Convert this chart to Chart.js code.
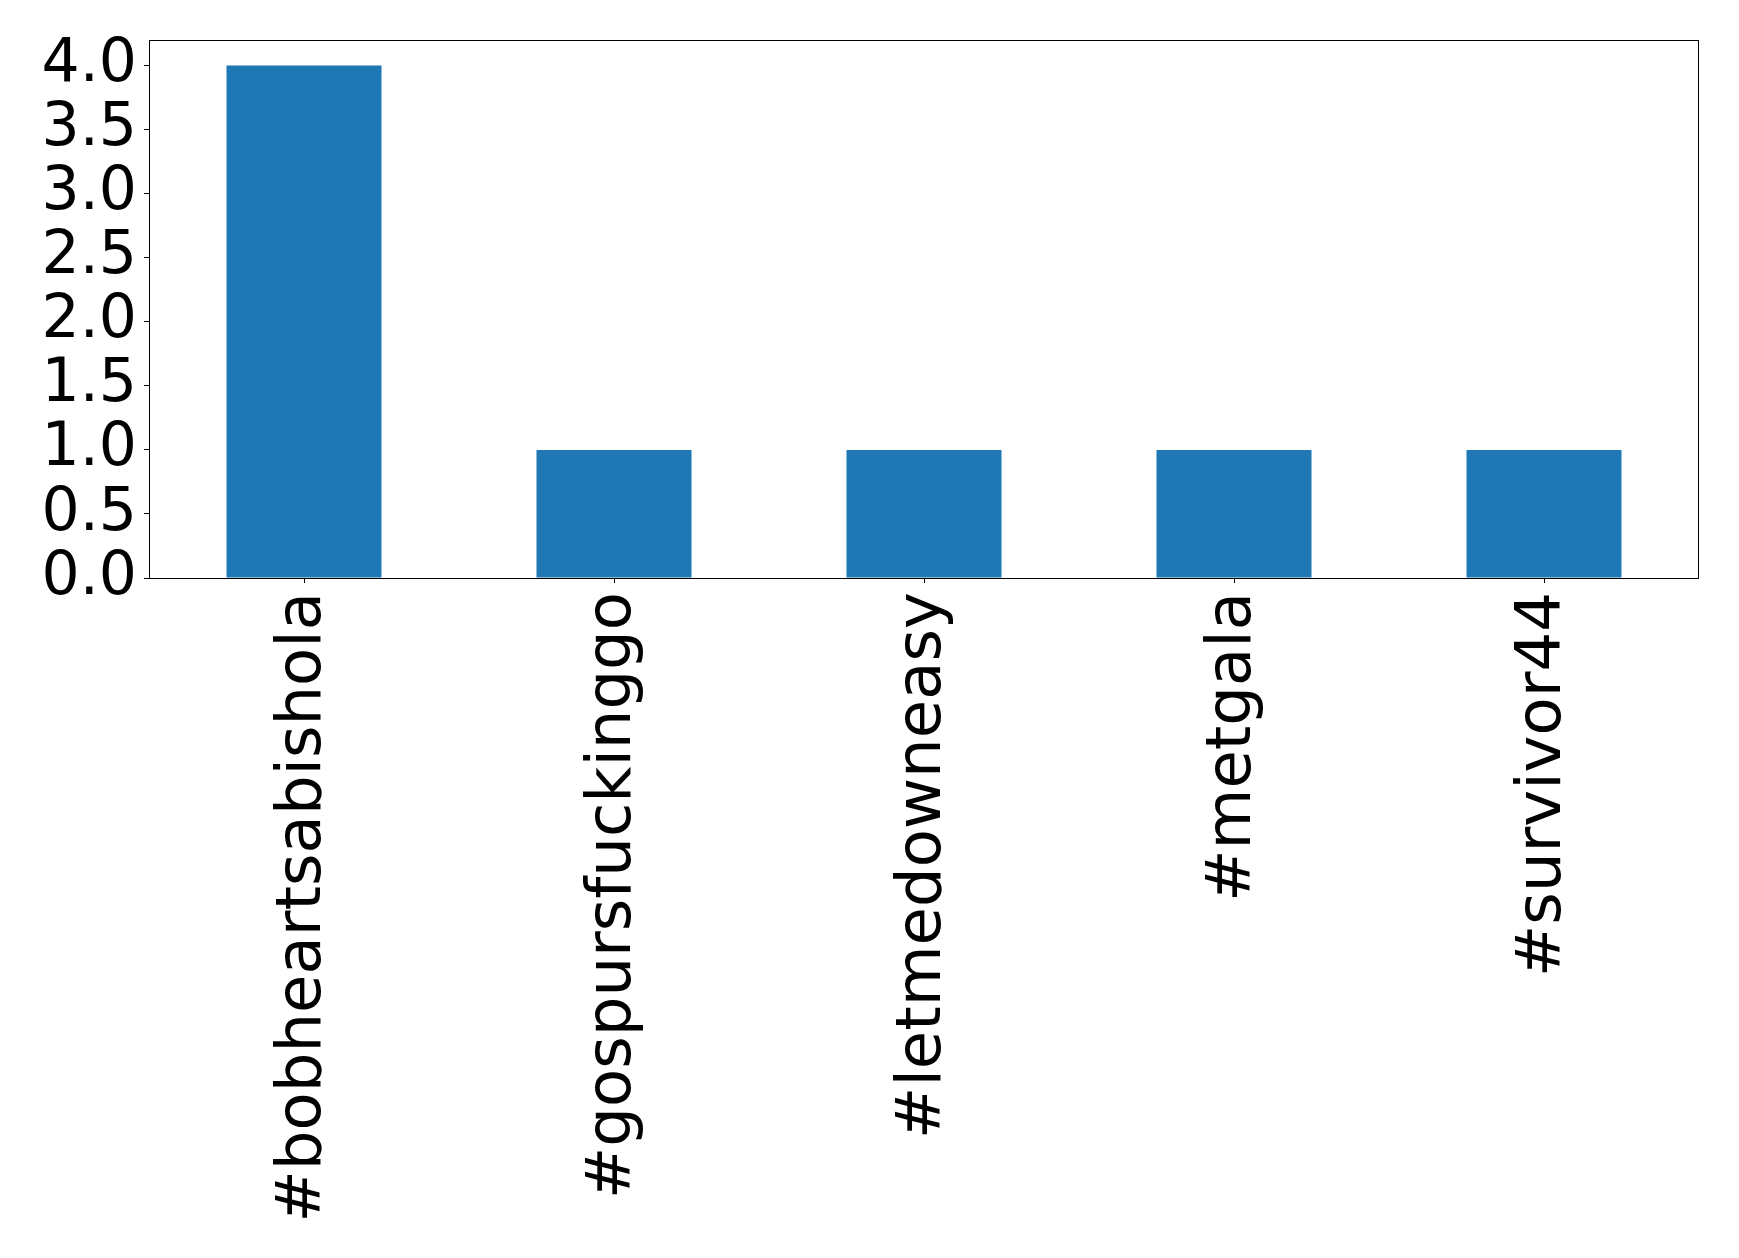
<!DOCTYPE html>
<html>
<head>
<meta charset="utf-8">
<style>
    html, body { margin: 0; padding: 0; background: #fff; }
</style>
</head>
<body>
<div style="width: 1739px; height: 1258px;">
    <canvas id="hashtagChart" width="1739" height="1258"></canvas>
</div>
<script src="https://cdn.jsdelivr.net/npm/chart.js"></script>
<script>
    var hashtags = ['#bobheartsabishola', '#gospursfuckinggo', '#letmedowneasy', '#metgala', '#survivor44'];
    var counts = [4, 1, 1, 1, 1];
    var yTicks = [0.0, 0.5, 1.0, 1.5, 2.0, 2.5, 3.0, 3.5, 4.0];

    // draws the full box around the plot like matplotlib spines
    var frame = {
        id: 'frame',
        afterDraw: function (chart) {
            var a = chart.chartArea;
            var c = chart.ctx;
            c.save();
            c.strokeStyle = '#000';
            c.lineWidth = 1;
            c.strokeRect(a.left + 0.5, a.top + 0.5, a.right - a.left - 1, a.bottom - a.top);
            c.restore();
        }
    };

    document.addEventListener('DOMContentLoaded', function () {
        var ctx = document.getElementById('hashtagChart').getContext('2d');
        new Chart(ctx, {
            type: 'bar',
            data: {
                labels: hashtags,
                datasets: [{
                    data: counts,
                    backgroundColor: '#1f77b4',
                    borderWidth: 0,
                    barPercentage: 0.5,
                    categoryPercentage: 1.0
                }]
            },
            options: {
                responsive: false,
                animation: false,
                layout: { padding: { top: 0, right: 40, left: 0, bottom: 0 } },
                plugins: {
                    legend: { display: false },
                    tooltip: { enabled: false }
                },
                scales: {
                    x: {
                        offset: true,
                        grid: { display: true, offset: false, drawOnChartArea: false, drawTicks: true, tickLength: 5, color: '#000' },
                        border: { display: false },
                        ticks: {
                            autoSkip: false,
                            minRotation: 90,
                            maxRotation: 90,
                            padding: 9,
                            color: '#000',
                            font: { family: 'DejaVu Sans', size: 62.5 }
                        },
                        afterFit: function (scale) { scale.height = 680; }
                    },
                    y: {
                        min: 0,
                        max: 4.2,
                        grid: { display: true, drawOnChartArea: false, drawTicks: true, tickLength: 5, color: '#000' },
                        border: { display: false },
                        afterBuildTicks: function (scale) {
                            scale.ticks = yTicks.map(function (v) { return { value: v }; });
                        },
                        ticks: {
                            autoSkip: false,
                            padding: 7,
                            color: '#000',
                            font: { family: 'DejaVu Sans', size: 60, lineHeight: 1 },
                            callback: function (v) { return Number(v).toFixed(1); }
                        },
                        afterFit: function (scale) {
                            scale.width = 149;
                            scale.paddingTop = 40;
                        }
                    }
                }
            },
            plugins: [frame]
        });
    });
</script>
</body>
</html>
